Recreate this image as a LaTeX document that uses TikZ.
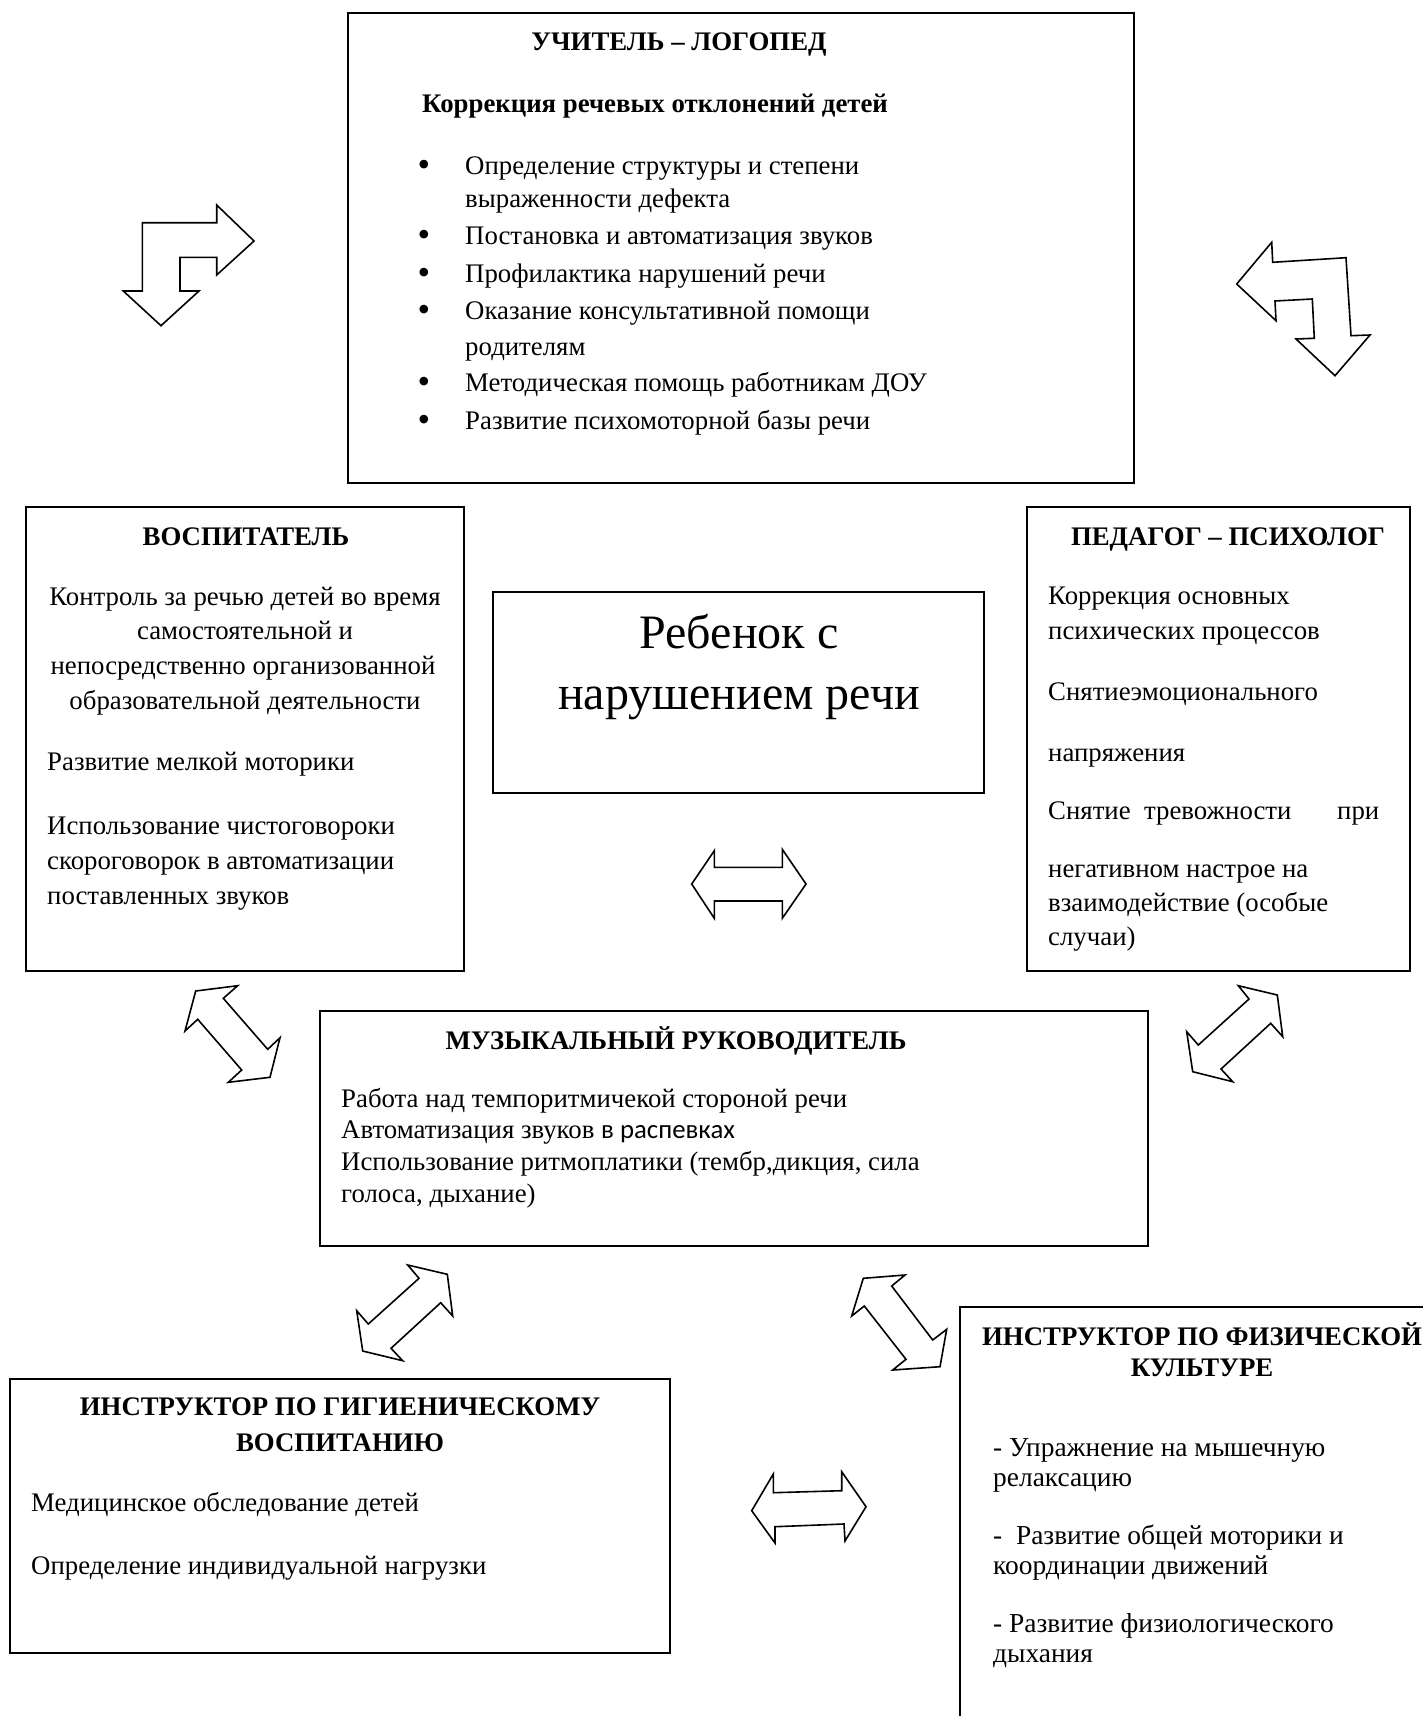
\documentclass[tikz,border=0pt]{standalone}
\usepackage{fontspec}
\setmainfont{Liberation Serif}
\newfontfamily\sansfnt{Carlito}
\newcommand\fsN{\fontsize{26.8}{31}\selectfont}
\newcommand\fsP{\fontsize{27.4}{31}\selectfont}
\newcommand\fsBig{\fontsize{48}{56}\selectfont}
\tikzset{
 box/.style={draw, line width=1.6pt, inner sep=0pt, outer sep=0pt},
 tl/.style={anchor=base west, inner sep=0pt, font=\fsN},
 tc/.style={anchor=base, inner sep=0pt, font=\fsN},
 hd/.style={anchor=base, inner sep=0pt, font=\fsN\bfseries},
 bul/.style={anchor=base, inner sep=0pt, font=\fontsize{36}{36}\selectfont},
 blk/.style={draw, line width=1.6pt, line join=miter, fill=white},
}
\begin{document}
\begin{tikzpicture}[x=1pt,y=-1pt]
\useasboundingbox (0,0) rectangle (1423,1716);

% ---------- boxes ----------
\node[box, minimum width=786pt, minimum height=470pt] (logo) at (741,248) {};
\node[box, minimum width=438pt, minimum height=464pt] (vosp) at (245,739) {};
\node[box, minimum width=491pt, minimum height=201pt] (child) at (738.5,692.5) {};
\node[box, minimum width=383pt, minimum height=464pt] (psych) at (1218.5,739) {};
\node[box, minimum width=828pt, minimum height=235pt] (music) at (734,1128.5) {};
\node[box, minimum width=660pt, minimum height=274pt] (hyg) at (340,1516) {};
\begin{scope}
\clip (0,0) rectangle (1423,1716);
\node[box, minimum width=500pt, minimum height=450pt] (phys) at (1210,1532) {};
\end{scope}

% ---------- teacher-logoped ----------
\node[hd] (lt) at (679,50) {УЧИТЕЛЬ – ЛОГОПЕД};
\node[tl, font=\fsN\bfseries] (ls) at (422,112) {Коррекция речевых отклонений детей};
\node[bul] (lb1) at (424,176) {•};
\node[tl] (l1) at (465,174) {Определение структуры и степени};
\node[tl] (l1b) at (465,207) {выраженности дефекта};
\node[bul] (lb2) at (424,246) {•};
\node[tl] (l2) at (465,244) {Постановка и автоматизация звуков};
\node[bul] (lb3) at (424,284) {•};
\node[tl] (l3) at (465,282) {Профилактика нарушений речи};
\node[bul] (lb4) at (424,321) {•};
\node[tl] (l4) at (465,319) {Оказание консультативной помощи};
\node[tl] (l4b) at (465,355) {родителям};
\node[bul] (lb5) at (424,393) {•};
\node[tl] (l5) at (465,391) {Методическая помощь работникам ДОУ};
\node[bul] (lb6) at (424,431) {•};
\node[tl] (l6) at (465,429) {Развитие психомоторной базы речи};

% ---------- vospitatel ----------
\node[hd] (vt) at (246,545) {ВОСПИТАТЕЛЬ};
\node[tc] (v1) at (245,605) {Контроль за речью детей во время};
\node[tc] (v2) at (245,639) {самостоятельной и};
\node[tc] (v3) at (243,674) {непосредственно организованной};
\node[tc] (v4) at (245,709) {образовательной деятельности};
\node[tl] (v5) at (47,770) {Развитие мелкой моторики};
\node[tl] (v6) at (47,834) {Использование чистоговороки};
\node[tl] (v7) at (47,869) {скороговорок в автоматизации};
\node[tl] (v8) at (47,904) {поставленных звуков};

% ---------- child ----------
\node[anchor=base, inner sep=0pt, font=\fsBig] (c1) at (739,648) {Ребенок с};
\node[anchor=base, inner sep=0pt, font=\fsBig] (c2) at (739,709) {нарушением речи};

% ---------- psychologist ----------
\node[hd] (pt) at (1228,545) {ПЕДАГОГ – ПСИХОЛОГ};
\node[tl] (p1) at (1048,604) {Коррекция основных};
\node[tl] (p2) at (1048,639) {психических процессов};
\node[tl] (p3) at (1048,700) {Снятиеэмоционального};
\node[tl] (p4) at (1048,761) {напряжения};
\node[tl] (p5) at (1048,819) {Снятие\ \ тревожности};
\node[tl] (p5b) at (1337,819) {при};
\node[tl] (p6) at (1048,877) {негативном настрое на};
\node[tl] (p7) at (1048,911) {взаимодействие (особые};
\node[tl] (p8) at (1048,945) {случаи)};

% ---------- music ----------
\node[hd] (mt) at (676,1049) {МУЗЫКАЛЬНЫЙ РУКОВОДИТЕЛЬ};
\node[tl] (m1) at (341,1107) {Работа над темпоритмичекой стороной речи};
\node[tl] (m2) at (341,1138) {Автоматизация звуков {\sansfnt в распевках}};
\node[tl] (m3) at (341,1170) {Использование ритмоплатики (тембр,дикция, сила};
\node[tl] (m4) at (341,1202) {голоса, дыхание)};

% ---------- hygiene ----------
\node[hd] (ht1) at (340,1415) {ИНСТРУКТОР ПО ГИГИЕНИЧЕСКОМУ};
\node[hd] (ht2) at (340,1451) {ВОСПИТАНИЮ};
\node[tl] (h1) at (31,1511) {Медицинское обследование детей};
\node[tl] (h2) at (31,1574) {Определение индивидуальной нагрузки};

% ---------- physical ----------
\node[hd] (ft1) at (1202,1345) {ИНСТРУКТОР ПО ФИЗИЧЕСКОЙ};
\node[hd] (ft2) at (1202,1376) {КУЛЬТУРЕ};
\node[tl, font=\fsP] (f1) at (993,1456) {- Упражнение на мышечную};
\node[tl, font=\fsP] (f2) at (993,1486) {релаксацию};
\node[tl, font=\fsP] (f3) at (993,1544) {-\ \ Развитие общей моторики и};
\node[tl, font=\fsP] (f4) at (993,1574) {координации движений};
\node[tl, font=\fsP] (f5) at (993,1632) {- Развитие физиологического};
\node[tl, font=\fsP] (f6) at (993,1662) {дыхания};

% ---------- block arrows ----------
% top-left bent arrow
\draw[blk] (254,241) -- (216.7,275) -- (216.7,257.3) -- (180,257.3) -- (180,291)
  -- (199,291) -- (161,325.7) -- (123.3,291) -- (142.3,291) -- (142.3,222.7)
  -- (216.7,222.7) -- (216.7,205) -- cycle;
% top-right bent arrow
\draw[blk] (1236.7,284) -- (1271.7,242.3) -- (1272.7,262.3) -- (1346,257.7)
  -- (1351,335.7) -- (1370,335) -- (1335,375.7) -- (1296,339) -- (1314.3,338.3)
  -- (1312.3,299) -- (1275,301) -- (1276,320.7) -- cycle;
% centre horizontal
\draw[blk] (691.7,884) -- (714.3,850.7) -- (714.3,867.3) -- (782.3,867.3)
  -- (782.3,849.3) -- (806,884) -- (782.3,918.3) -- (782.3,901) -- (714.3,901)
  -- (714.3,918.3) -- cycle;
% left diagonal (vosp - music)
\draw[blk] (195.7,991) -- (237.7,985.7) -- (223.3,998.3) -- (267.7,1049.3)
  -- (280,1037.7) -- (270,1077.3) -- (228.3,1082.3) -- (241.7,1070)
  -- (197.7,1019.3) -- (185,1031) -- cycle;
% right diagonal (psych - music)
\draw[blk] (1277.3,995) -- (1238.3,985.7) -- (1249,999) -- (1198.3,1045)
  -- (1186.7,1031.7) -- (1192.7,1071.7) -- (1232.7,1081.7) -- (1221,1069)
  -- (1270.7,1023.3) -- (1282.7,1036.7) -- cycle;
% lower-left diagonal (music - hygiene)
\draw[blk] (447.3,1274.3) -- (407.7,1265) -- (419,1278.3) -- (368.3,1324)
  -- (356.7,1310.7) -- (362.7,1351) -- (402.7,1360.7) -- (391,1348.3)
  -- (440.7,1302.7) -- (452.7,1316) -- cycle;
% lower-right diagonal (music - physical)
\draw[blk] (863.3,1278.3) -- (905,1275) -- (891.7,1286) -- (932.7,1340)
  -- (946.7,1329.3) -- (940,1366.7) -- (892.7,1370) -- (906,1359.3)
  -- (864.3,1306) -- (851.7,1316) -- cycle;
% bottom horizontal
\draw[blk] (751.7,1510.7) -- (773.3,1474) -- (773.3,1492.7) -- (841.7,1490.7)
  -- (841.7,1471.7) -- (866,1506.7) -- (845,1541) -- (844,1524) -- (775,1526.7)
  -- (775,1543) -- cycle;
\end{tikzpicture}
\end{document}
